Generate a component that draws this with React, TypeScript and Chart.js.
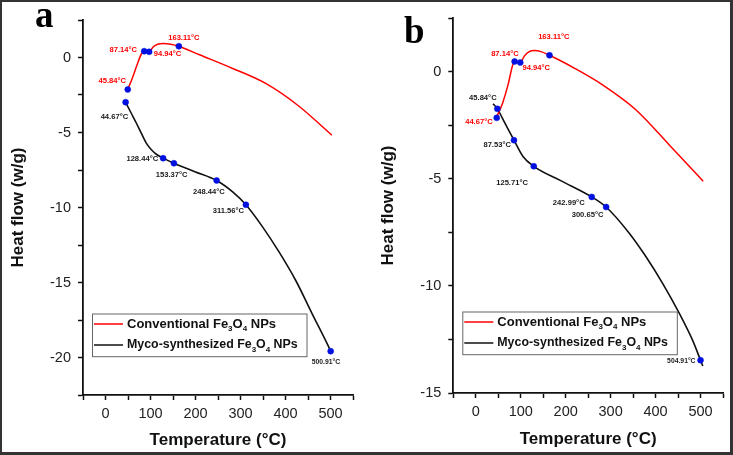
import React, { useEffect, useRef } from 'react';
import { Chart, registerables } from 'chart.js';
Chart.register(...registerables);

// ---------- Panel a data ----------
const aConvT = [49.4, 60, 70, 80, 86, 97, 106, 116, 128, 145, 163, 209, 282.6, 356, 430, 503];
const aConvH = [-2.13, -1.35, -0.5, 0.25, 0.42, 0.38, 0.7, 0.88, 0.94, 0.89, 0.75, 0.18, -0.73, -1.73, -3.25, -5.18];
const aMycoT = [44.67, 57, 69, 80, 91, 102, 113, 128, 152, 200, 247, 282.6, 312, 349, 385.6, 422.5, 459, 496, 500.4];
const aMycoH = [-2.98, -3.7, -4.4, -5.07, -5.73, -6.15, -6.45, -6.71, -7.05, -7.63, -8.2, -8.96, -9.82, -11.29, -12.96, -14.85, -17.07, -19.29, -19.58];
const aConvMarkT = [49.4, 86, 97, 163];
const aConvMarkH = [-2.13, 0.42, 0.38, 0.75];
const aConvLabels = ['45.84°C', '87.14°C', '94.94°C', '163.11°C'];
const aMycoMarkT = [44.67, 128, 152, 247, 312, 500.4];
const aMycoMarkH = [-2.98, -6.71, -7.05, -8.2, -9.82, -19.58];
const aMycoLabels = ['44.67°C', '128.44°C', '153.37°C', '248.44°C', '311.56°C', '500.91°C'];

// ---------- Panel b data ----------
const bConvT = [47, 60, 72, 82, 86.4, 99, 108, 118, 131, 145, 164, 220, 282, 356, 430, 506];
const bConvH = [-2.1, -1.45, -0.6, 0.3, 0.47, 0.42, 0.72, 0.92, 0.98, 0.93, 0.76, 0.15, -0.62, -1.78, -3.41, -5.12];
const bMycoT = [38.4, 48, 66, 85, 105, 129, 190, 258, 290, 341, 378, 415, 452, 481.5, 500, 505];
const bMycoH = [-1.5, -1.74, -2.45, -3.2, -3.96, -4.42, -5.1, -5.85, -6.32, -7.53, -8.62, -9.86, -11.25, -12.5, -13.47, -13.74];
const bConvMarkT = [46.6, 86.4, 99, 164];
const bConvMarkH = [-2.16, 0.47, 0.42, 0.76];
const bConvLabels = ['44.67°C', '87.14°C', '94.94°C', '163.11°C'];
const bMycoMarkT = [48, 85, 129, 258, 290, 500];
const bMycoMarkH = [-1.74, -3.2, -4.42, -5.85, -6.32, -13.47];
const bMycoLabels = ['45.84°C', '87.53°C', '125.71°C', '242.99°C', '300.65°C', '504.91°C'];

// ---------- shared text ----------
const xTitle = 'Temperature (°C)';
const yTitle = 'Heat flow (w/g)';
const legendConv: [string, boolean][] = [['Conventional Fe', false], ['3', true], ['O', false], ['4', true], [' NPs', false]];
const legendMyco: [string, boolean][] = [['Myco-synthesized Fe', false], ['3', true], ['O', false], ['4', true], [' NPs', false]];

const SANS = '"Liberation Sans", Arial, sans-serif';
const SERIF = '"Liberation Serif", "Times New Roman", serif';
const RED = '#ff0000';
const BLACK = '#111111';
const BLUE = '#0010e0';

const zip = (xs: number[], ys: number[]) => xs.map((x, i) => ({ x, y: ys[i] }));

interface PanelStyle {
  letter: string;
  letterX: number;
  letterY: number;
  yMin: number;
  padding: { left: number; top: number; right: number; bottom: number };
  yAxisWidth: number;
  xAxisHeight: number;
  yTitlePad: number;
  xTitlePad: number;
  convOffsets: number[][];
  mycoOffsets: number[][];
  mycoSmallLast: boolean;
}

const labelPlugin = {
  id: 'pointLabels',
  afterDatasetsDraw(chart: any) {
    const ctx = chart.ctx;
    const cfg = chart.options.plugins.pointLabels;
    ctx.save();
    ctx.textAlign = 'center';
    ctx.textBaseline = 'middle';
    cfg.sets.forEach((s: any) => {
      const meta = chart.getDatasetMeta(s.index);
      meta.data.forEach((el: any, i: number) => {
        const small = s.smallLast && i === meta.data.length - 1;
        ctx.font = `bold ${small ? 6.8 : 7.6}px ${SANS}`;
        ctx.fillStyle = s.color;
        ctx.fillText(s.labels[i], el.x + s.offsets[i][0], el.y + s.offsets[i][1]);
      });
    });
    ctx.restore();
  },
};

function drawRich(ctx: CanvasRenderingContext2D, parts: [string, boolean][], x: number, y: number, size: number) {
  let cx = x;
  for (const [t, sub] of parts) {
    ctx.font = sub ? `bold 8px ${SANS}` : `bold ${size}px ${SANS}`;
    ctx.fillText(t, cx, sub ? y + 4.5 : y);
    cx += ctx.measureText(t).width;
  }
}

const legendPlugin = {
  id: 'richLegend',
  afterDraw(chart: any) {
    const ctx = chart.ctx;
    const a = chart.chartArea;
    const bx = a.left + 9;
    const by = a.bottom - 81.5;
    const bw = 214.5;
    const bh = 42.7;
    ctx.save();
    ctx.fillStyle = '#ffffff';
    ctx.fillRect(bx, by, bw, bh);
    ctx.strokeStyle = '#666666';
    ctx.lineWidth = 1;
    ctx.strokeRect(bx + 0.5, by + 0.5, bw, bh);
    const rows: [string, [string, boolean][], number][] = [[RED, legendConv, 13], [BLACK, legendMyco, 12.4]];
    rows.forEach(([color, parts, size], i) => {
      const ry = by + (i === 0 ? 10.5 : 31.5);
      ctx.strokeStyle = color;
      ctx.lineWidth = 1.5;
      ctx.beginPath();
      ctx.moveTo(bx + 2, ry);
      ctx.lineTo(bx + 31, ry);
      ctx.stroke();
      ctx.fillStyle = '#111';
      ctx.textAlign = 'left';
      ctx.textBaseline = 'middle';
      drawRich(ctx, parts, bx + 35, ry, size);
    });
    ctx.restore();
  },
};

const letterPlugin = {
  id: 'panelLetter',
  afterDraw(chart: any) {
    const cfg = chart.options.plugins.panelLetter;
    const ctx = chart.ctx;
    ctx.save();
    ctx.font = `bold ${cfg.size}px ${SERIF}`;
    ctx.fillStyle = '#000';
    ctx.textAlign = 'left';
    ctx.textBaseline = 'alphabetic';
    ctx.fillText(cfg.text, cfg.x, cfg.y);
    ctx.restore();
  },
};

function makeConfig(
  st: PanelStyle,
  convT: number[], convH: number[], mycoT: number[], mycoH: number[],
  convMT: number[], convMH: number[], convL: string[],
  mycoMT: number[], mycoMH: number[], mycoL: string[],
): any {
  const tickFont = { family: SANS, size: 14.5 };
  const titleFont = { family: SANS, size: 17, weight: 'bold' as const };
  const grid = { display: true, drawOnChartArea: false, drawTicks: true, tickLength: 5, tickWidth: 1.5, tickColor: BLACK };
  const border = { display: true, color: BLACK, width: 1.8 };
  return {
    type: 'scatter',
    data: {
      datasets: [
        { data: zip(convMT, convMH), showLine: false, pointRadius: 3, pointBackgroundColor: BLUE, pointBorderColor: BLUE, pointBorderWidth: 0.5 },
        { data: zip(mycoMT, mycoMH), showLine: false, pointRadius: 3, pointBackgroundColor: BLUE, pointBorderColor: BLUE, pointBorderWidth: 0.5 },
        { data: zip(convT, convH), showLine: true, borderColor: RED, borderWidth: 1.5, pointRadius: 0, cubicInterpolationMode: 'monotone', fill: false },
        { data: zip(mycoT, mycoH), showLine: true, borderColor: BLACK, borderWidth: 1.6, pointRadius: 0, cubicInterpolationMode: 'monotone', fill: false },
      ],
    },
    options: {
      responsive: false,
      animation: false,
      devicePixelRatio: 1,
      events: [],
      layout: { padding: st.padding },
      plugins: {
        legend: { display: false },
        tooltip: { enabled: false },
        pointLabels: {
          sets: [
            { index: 0, labels: convL, offsets: st.convOffsets, color: RED, smallLast: false },
            { index: 1, labels: mycoL, offsets: st.mycoOffsets, color: '#1a1a1a', smallLast: st.mycoSmallLast },
          ],
        },
        panelLetter: { text: st.letter, x: st.letterX, y: st.letterY, size: 37 },
      },
      scales: {
        x: {
          type: 'linear',
          min: -50,
          max: 550,
          grid,
          border,
          ticks: {
            stepSize: 50,
            autoSkip: false,
            maxRotation: 0,
            padding: 5.5,
            color: '#222',
            font: tickFont,
            callback: (v: number) => (v % 100 === 0 ? String(v) : ''),
          },
          title: { display: true, text: xTitle, color: BLACK, font: titleFont, padding: { top: 0, bottom: st.xTitlePad } },
          afterFit: (s: any) => { s.height = st.xAxisHeight; },
        },
        y: {
          type: 'linear',
          min: st.yMin,
          max: 2.5,
          grid,
          border,
          ticks: {
            stepSize: 2.5,
            autoSkip: false,
            padding: 7,
            color: '#222',
            font: tickFont,
            callback: (v: number) => (Math.abs(v % 5) < 1e-9 ? String(Math.abs(v) < 1e-9 ? 0 : v) : ''),
          },
          title: { display: true, text: yTitle, color: BLACK, font: titleFont, padding: { top: st.yTitlePad, bottom: 0 } },
          afterFit: (s: any) => { s.width = st.yAxisWidth; },
        },
      },
    },
    plugins: [labelPlugin, legendPlugin, letterPlugin],
  };
}

const styleA: PanelStyle = {
  letter: 'a', letterX: 35, letterY: 27, yMin: -22.5,
  padding: { left: 0, top: 20, right: 13, bottom: 0 },
  yAxisWidth: 83, xAxisHeight: 60, yTitlePad: 8.3, xTitlePad: 4.1,
  convOffsets: [[-15.4, -8.3], [-21, -1], [18.4, 2.6], [5, -8.3]],
  mycoOffsets: [[-11.2, 14.5], [-20.8, 1], [-2.2, 11.3], [-7.8, 11.4], [-17.5, 6.2], [-4.7, 11.3]],
  mycoSmallLast: true,
};

const styleB: PanelStyle = {
  letter: 'b', letterX: 38, letterY: 43, yMin: -15,
  padding: { left: 0, top: 18, right: 10, bottom: 0 },
  yAxisWidth: 87.3, xAxisHeight: 62, yTitlePad: 12.3, xTitlePad: 5.5,
  convOffsets: [[-17.8, 4.2], [-9.7, -7.7], [16, 5], [4.3, -18.6]],
  mycoOffsets: [[-14.5, -11], [-16.8, 4.5], [-21.7, 16.6], [-23, 6], [-18.6, 8.4], [-19.2, 0.7]],
  mycoSmallLast: true,
};

function Panel(props: { config: () => any; left: number; width: number }) {
  const ref = useRef<HTMLCanvasElement | null>(null);
  useEffect(() => {
    if (!ref.current) return;
    const chart = new Chart(ref.current, props.config());
    return () => chart.destroy();
  }, []);
  return (
    <canvas
      ref={ref}
      width={props.width}
      height={455}
      style={{ position: 'absolute', left: props.left, top: 0, width: props.width, height: 455 }}
    />
  );
}

export default function App() {
  return (
    <div style={{ position: 'fixed', left: 0, top: 0, width: 733, height: 455, background: '#fff', overflow: 'hidden' }}>
      <Panel
        left={0}
        width={366}
        config={() => makeConfig(styleA, aConvT, aConvH, aMycoT, aMycoH, aConvMarkT, aConvMarkH, aConvLabels, aMycoMarkT, aMycoMarkH, aMycoLabels)}
      />
      <Panel
        left={366}
        width={367}
        config={() => makeConfig(styleB, bConvT, bConvH, bMycoT, bMycoH, bConvMarkT, bConvMarkH, bConvLabels, bMycoMarkT, bMycoMarkH, bMycoLabels)}
      />
      <div
        style={{
          position: 'absolute', left: 0, top: 0, width: 733, height: 455, boxSizing: 'border-box',
          borderStyle: 'solid', borderColor: '#333', borderWidth: '2px 3px 3px 2px', pointerEvents: 'none',
        }}
      />
    </div>
  );
}
